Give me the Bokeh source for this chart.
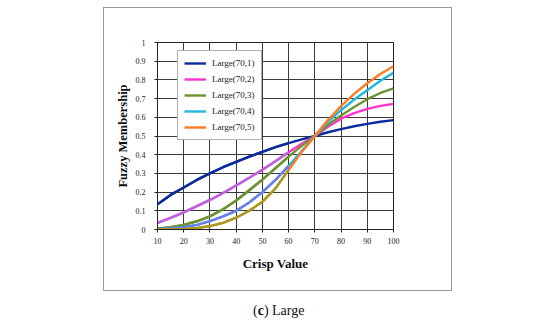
from bokeh.plotting import figure
from bokeh.models import Range1d, FixedTicker, Legend, LegendItem, Div
from bokeh.layouts import column
from bokeh.embed import file_html
from bokeh.resources import INLINE

crisp = [10, 15, 20, 25, 30, 35, 40, 45, 50, 55, 60, 65, 70, 75, 80, 85, 90, 95, 100]
series_names = ["Large(70,1)", "Large(70,2)", "Large(70,3)", "Large(70,4)", "Large(70,5)"]
large_70_1 = [0.135, 0.185, 0.225, 0.265, 0.300, 0.333, 0.362, 0.390, 0.415, 0.440, 0.462, 0.482, 0.500, 0.520, 0.537, 0.552, 0.565, 0.576, 0.585]
large_70_2 = [0.035, 0.062, 0.092, 0.125, 0.158, 0.195, 0.235, 0.277, 0.320, 0.365, 0.413, 0.458, 0.500, 0.550, 0.593, 0.622, 0.645, 0.661, 0.672]
large_70_3 = [0.004, 0.012, 0.025, 0.044, 0.070, 0.108, 0.155, 0.210, 0.267, 0.328, 0.390, 0.447, 0.500, 0.560, 0.610, 0.655, 0.697, 0.730, 0.755]
large_70_4 = [0.002, 0.005, 0.012, 0.025, 0.045, 0.070, 0.100, 0.145, 0.200, 0.265, 0.340, 0.420, 0.500, 0.575, 0.638, 0.695, 0.745, 0.795, 0.838]
large_70_5 = [0.000, 0.001, 0.003, 0.008, 0.018, 0.035, 0.063, 0.100, 0.148, 0.220, 0.318, 0.415, 0.500, 0.585, 0.660, 0.725, 0.782, 0.832, 0.873]
x_ticks = [10, 20, 30, 40, 50, 60, 70, 80, 90, 100]
y_ticks = [0, 0.1, 0.2, 0.3, 0.4, 0.5, 0.6, 0.7, 0.8, 0.9, 1]
y_tick_labels = ["0", "0.1", "0.2", "0.3", "0.4", "0.5", "0.6", "0.7", "0.8", "0.9", "1"]
caption_html = "(<b>c</b>) Large"

all_series = [large_70_1, large_70_2, large_70_3, large_70_4, large_70_5]
main_colors = ["#0B2C9E", "#FF33CC", "#6B9430", "#1EB8E0", "#FF7A22"]
low_colors = ["#0B2C9E", "#B863E0", "#6B9430", "#6F7BEA", "#A89A22"]
split_at = 60

SERIF = "Liberation Serif"

p = figure(width=347, height=282, output_backend="svg", toolbar_location=None,
           x_range=Range1d(10, 100), y_range=Range1d(0, 1),
           min_border_left=53, min_border_right=58, min_border_top=34, min_border_bottom=61,
           margin=(8, 0, 0, 104))
p.styles = {"outline": "1.5px solid #9a9a9a"}
p.background_fill_color = "white"
p.border_fill_color = "white"
p.outline_line_color = "#222222"
p.outline_line_width = 1

for ax in (p.xaxis[0], p.yaxis[0]):
    ax.axis_line_color = "#222222"
    ax.major_tick_line_color = "#222222"
    ax.minor_tick_line_color = None
    ax.major_tick_in = 0
    ax.major_tick_out = 3
    ax.major_label_text_font = SERIF
    ax.major_label_text_font_size = "8px"
    ax.major_label_text_color = "#222222"
    ax.axis_label_text_font = SERIF
    ax.axis_label_text_font_style = "bold"
    ax.axis_label_text_color = "#111111"

p.xaxis.ticker = FixedTicker(ticks=x_ticks)
p.yaxis.ticker = FixedTicker(ticks=y_ticks)
p.yaxis.major_label_overrides = {t: s for t, s in zip(y_ticks, y_tick_labels)}
p.xaxis.axis_label = "Crisp Value"
p.xaxis.axis_label_text_font_size = "13px"
p.xaxis.major_label_standoff = 5
p.xaxis.axis_label_standoff = 9
p.yaxis.axis_label = "Fuzzy Membership"
p.yaxis.axis_label_text_font_size = "12.5px"
p.yaxis.major_label_standoff = 9
p.yaxis.axis_label_standoff = 3

p.xgrid.grid_line_color = "#3a3a3a"
p.ygrid.grid_line_color = "#3a3a3a"
p.xgrid.grid_line_width = 1
p.ygrid.grid_line_width = 1

items = []
n_low = crisp.index(split_at) + 1
for name, ys, c, lc in zip(series_names, all_series, main_colors, low_colors):
    r = p.line(crisp, ys, line_color=c, line_width=2.4)
    p.line(crisp[:n_low], ys[:n_low], line_color=lc, line_width=2.4)
    items.append(LegendItem(label=name, renderers=[r]))

legend = Legend(items=items, location=(20, 89), orientation="vertical",
                label_text_font=SERIF, label_text_font_size="9px", label_text_color="#222222",
                glyph_width=22, glyph_height=12, label_height=12, label_standoff=6,
                spacing=4, padding=6, margin=0,
                border_line_color="#666666", border_line_width=1,
                background_fill_color="white", background_fill_alpha=1)
p.add_layout(legend, "center")

caption = Div(text=caption_html, width=120, height=18, margin=(13, 0, 0, 253),
              styles={"font-family": "'Liberation Serif', serif", "font-size": "14px",
                      "color": "#111111", "line-height": "16px"})

layout = column(p, caption, spacing=0)
open("out.html", "w").write(file_html(layout, INLINE))
